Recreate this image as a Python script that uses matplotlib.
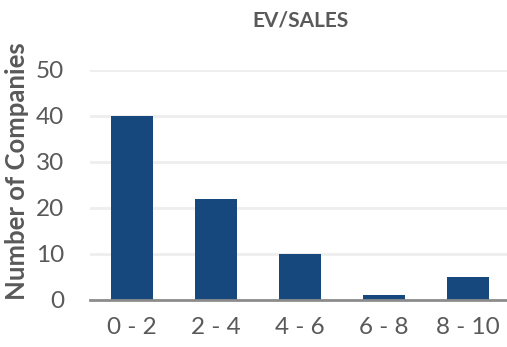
import matplotlib.pyplot as plt

# distribution of EV/Sales multiples
bins = ["0 - 2", "2 - 4", "4 - 6", "6 - 8", "8 - 10"]
companies = [40, 22, 10, 1, 5]
yticks = [0, 10, 20, 30, 40, 50]

plt.rcParams['font.family'] = ['Lato', 'DejaVu Sans']
grey = "#595959"

fig = plt.figure(figsize=(5.07, 3.47), dpi=100)
ax = fig.add_axes([90/507, 47/347, 420/507, 230/347])

ax.bar(range(len(bins)), companies, width=0.5, color="#17487d", zorder=3)

ax.set_xlim(-0.5, len(bins) - 0.5)
ax.set_ylim(0, 50)
ax.set_yticks(yticks)
ax.set_xticks(range(len(bins)))
ax.set_xticklabels(bins)
ax.tick_params(axis='both', length=0, labelsize=17.5, colors=grey)
ax.tick_params(axis='x', pad=12)
ax.tick_params(axis='y', pad=18.5)

ax.grid(axis='y', color="#eeeeee", linewidth=2, zorder=0)
for s in ['top', 'right', 'left']:
    ax.spines[s].set_visible(False)
ax.spines['bottom'].set_color("#8c8c8c")
ax.spines['bottom'].set_linewidth(2)
ax.spines['bottom'].set_zorder(4)

ax.set_ylabel("Number of Companies", fontsize=18.5, fontweight='bold', color=grey)
ax.yaxis.set_label_coords(-0.145, 0.56)
fig.text(0.592, 0.94, "EV/SALES", ha='center', va='center', fontsize=15,
         fontweight='bold', color=grey)

fig.savefig("out.png", dpi=100)
